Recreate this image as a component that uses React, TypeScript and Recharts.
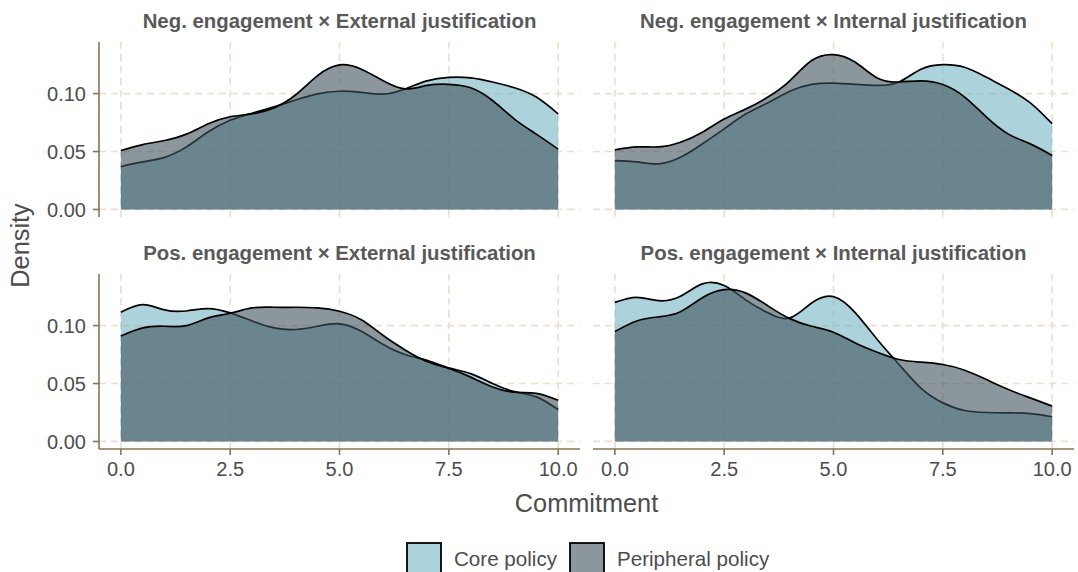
import { AreaChart, Area, XAxis, YAxis, CartesianGrid } from 'recharts';

// commitment grid the densities were evaluated on
const commitment = [0, 0.5, 1, 1.5, 2, 2.5, 3, 3.5, 4, 4.5, 5, 5.5, 6, 6.5, 7, 7.5, 8, 8.5, 9, 9.5, 10];

const xTicks = [0, 2.5, 5, 7.5, 10];
const yTicks = [0, 0.05, 0.1];

const negExtCore = [0.037, 0.041, 0.045, 0.054, 0.067, 0.077, 0.083, 0.0885, 0.0945, 0.0997, 0.102, 0.101, 0.0995, 0.104, 0.111, 0.114, 0.1135, 0.11, 0.105, 0.097, 0.0825];
const negExtPeripheral = [0.0509, 0.056, 0.0595, 0.065, 0.074, 0.08, 0.0825, 0.0876, 0.099, 0.1155, 0.1247, 0.121, 0.111, 0.104, 0.107, 0.108, 0.105, 0.094, 0.078, 0.065, 0.052];

const negIntCore = [0.0422, 0.041, 0.0394, 0.045, 0.0566, 0.0695, 0.0825, 0.092, 0.102, 0.108, 0.109, 0.108, 0.107, 0.11, 0.121, 0.125, 0.1227, 0.114, 0.104, 0.092, 0.074];
const negIntPeripheral = [0.0514, 0.054, 0.054, 0.058, 0.0667, 0.078, 0.0868, 0.097, 0.111, 0.1285, 0.1336, 0.127, 0.1135, 0.11, 0.111, 0.1078, 0.097, 0.0796, 0.065, 0.0566, 0.0466];

const posExtCore = [0.1115, 0.118, 0.1135, 0.1126, 0.1147, 0.111, 0.104, 0.098, 0.0966, 0.0994, 0.1015, 0.095, 0.0836, 0.075, 0.07, 0.0635, 0.0585, 0.05, 0.043, 0.0385, 0.0276];
const posExtPeripheral = [0.091, 0.098, 0.0994, 0.1, 0.1066, 0.1106, 0.1152, 0.1158, 0.1158, 0.1152, 0.1124, 0.105, 0.0914, 0.079, 0.069, 0.063, 0.0555, 0.047, 0.0425, 0.0415, 0.0355];

const posIntCore = [0.12, 0.1244, 0.1215, 0.1253, 0.136, 0.1345, 0.122, 0.111, 0.1066, 0.1195, 0.125, 0.111, 0.088, 0.0664, 0.046, 0.0333, 0.0267, 0.025, 0.0247, 0.024, 0.0213];
const posIntPeripheral = [0.0948, 0.104, 0.1075, 0.112, 0.124, 0.131, 0.128, 0.117, 0.106, 0.0994, 0.0943, 0.085, 0.077, 0.0707, 0.0684, 0.0664, 0.0615, 0.0534, 0.0448, 0.0376, 0.0305];

const FONT = '"Liberation Sans", Arial, Helvetica, sans-serif';
const AXIS = '#8b7355';
const GRID = '#ecdfd1';
const TEXT = '#4d4d4d';
const STRIP = '#595959';
const CORE_FILL = '#75b6c5';
const PERI_FILL = '#3e525a';
const ALPHA = 0.6;

const PLOT_W = 481;
const PLOT_H = 175;
const Y_AXIS_W = 99;

const noTick = () => <g />;

type PanelProps = {
  core: number[];
  peripheral: number[];
  showX: boolean;
  showY: boolean;
  left: number;
  top: number;
};

function Panel({ core, peripheral, showX, showY, left, top }: PanelProps) {
  const rows = commitment.map((x, i) => ({ x, core: core[i], peripheral: peripheral[i] }));
  const yw = showY ? Y_AXIS_W : 0;
  const xh = showX ? 45 : 0;
  const tickStyle = { fill: TEXT, fontSize: 20, fontFamily: FONT };

  return (
    <div style={{ position: 'absolute', left: left - yw, top: top - 12 }}>
      <AreaChart
        width={yw + PLOT_W + 4}
        height={PLOT_H + xh + 24}
        data={rows}
        margin={{ top: 12, right: 4, bottom: 12, left: 0 }}
      >
        <CartesianGrid
          stroke={GRID}
          strokeWidth={1.7}
          strokeDasharray="7 5"
          syncWithTicks
          verticalValues={xTicks}
          horizontalValues={yTicks}
        />
        <XAxis
          dataKey="x"
          type="number"
          domain={[-0.5, 10.5]}
          allowDataOverflow
          ticks={xTicks}
          interval={0}
          height={xh}
          axisLine={showX ? { stroke: AXIS, strokeWidth: 1.6 } : false}
          tickLine={showX ? { stroke: AXIS, strokeWidth: 1.6 } : false}
          tick={showX ? tickStyle : noTick}
          tickSize={6}
          tickMargin={7}
          tickFormatter={(v: number) => v.toFixed(1)}
        />
        <YAxis
          type="number"
          domain={[-0.0065, 0.1445]}
          allowDataOverflow
          ticks={yTicks}
          interval={0}
          width={yw}
          axisLine={showY ? { stroke: AXIS, strokeWidth: 1.6 } : false}
          tickLine={showY ? { stroke: AXIS, strokeWidth: 1.6 } : false}
          tick={showY ? tickStyle : noTick}
          tickSize={6}
          tickMargin={7}
          tickFormatter={(v: number) => v.toFixed(2)}
        />
        <Area
          dataKey="core"
          type="natural"
          baseValue={0}
          fill={CORE_FILL}
          fillOpacity={ALPHA}
          stroke="#000"
          strokeWidth={1.7}
          isAnimationActive={false}
        />
        <Area
          dataKey="peripheral"
          type="natural"
          baseValue={0}
          fill={PERI_FILL}
          fillOpacity={ALPHA}
          stroke="#000"
          strokeWidth={1.7}
          isAnimationActive={false}
        />
      </AreaChart>
    </div>
  );
}

const panels = [
  { title: 'Neg. engagement × External justification', core: negExtCore, peripheral: negExtPeripheral, col: 0, row: 0 },
  { title: 'Neg. engagement × Internal justification', core: negIntCore, peripheral: negIntPeripheral, col: 1, row: 0 },
  { title: 'Pos. engagement × External justification', core: posExtCore, peripheral: posExtPeripheral, col: 0, row: 1 },
  { title: 'Pos. engagement × Internal justification', core: posIntCore, peripheral: posIntPeripheral, col: 1, row: 1 },
];

const colLeft = [99, 593];
const rowTop = [42, 274];
const stripBaseline = [28, 260];

export default function App() {
  return (
    <div style={{ position: 'absolute', left: 0, top: 0, width: 1078, height: 572, background: '#fff', overflow: 'hidden' }}>
      {panels.map((p) => (
        <Panel
          key={p.title}
          core={p.core}
          peripheral={p.peripheral}
          showX={p.row === 1}
          showY={p.col === 0}
          left={colLeft[p.col]}
          top={rowTop[p.row]}
        />
      ))}
      <svg
        width={1078}
        height={572}
        style={{ position: 'absolute', left: 0, top: 0, pointerEvents: 'none' }}
        fontFamily={FONT}
      >
        {panels.map((p) => (
          <text
            key={p.title}
            x={colLeft[p.col] + PLOT_W / 2}
            y={stripBaseline[p.row]}
            textAnchor="middle"
            fontSize={20.4}
            fontWeight="bold"
            fill={STRIP}
          >
            {p.title}
          </text>
        ))}
        <text x={586.5} y={512} textAnchor="middle" fontSize={25.3} fill={TEXT}>
          Commitment
        </text>
        <text
          x={29}
          y={245.5}
          textAnchor="middle"
          fontSize={25.3}
          fill={TEXT}
          transform="rotate(-90 29 245.5)"
        >
          Density
        </text>
        {/* legend */}
        <rect x={407} y={543} width={34} height={34} fill={CORE_FILL} fillOpacity={ALPHA} stroke="#000" strokeWidth={1.8} />
        <text x={454} y={566} fontSize={20.6} fill={TEXT}>
          Core policy
        </text>
        <rect x={570} y={543} width={34} height={34} fill={PERI_FILL} fillOpacity={ALPHA} stroke="#000" strokeWidth={1.8} />
        <text x={617} y={566} fontSize={20.6} fill={TEXT}>
          Peripheral policy
        </text>
      </svg>
    </div>
  );
}
